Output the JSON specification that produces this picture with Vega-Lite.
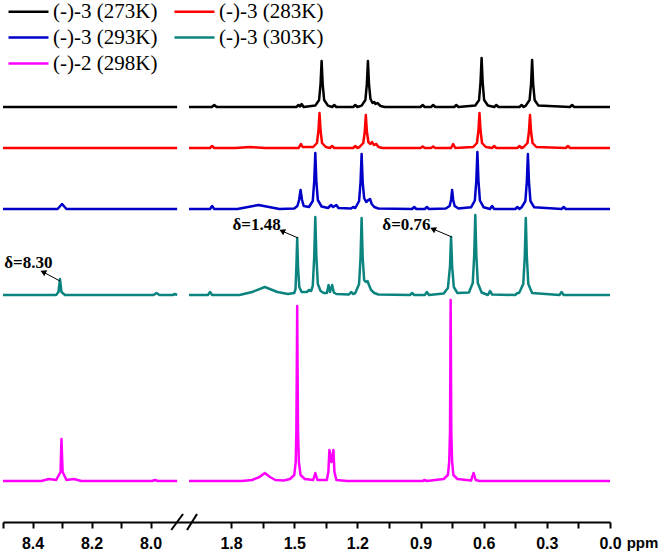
{
  "$schema": "https://vega.github.io/schema/vega-lite/v6.json",
  "width": 666,
  "height": 522,
  "autosize": {"type": "none"},
  "padding": {"left": 0, "top": 0, "right": 0, "bottom": 29},
  "background": "white",
  "config": {"view": {"stroke": null}},
  "datasets": {
    "spectra": [
      {"s":"(-)-3 (273K)","g":"L","ppm":8.5,"v":415},{"s":"(-)-3 (273K)","g":"L","ppm":7.91,"v":415},
      {"s":"(-)-3 (273K)","g":"R","ppm":2.0,"v":415},{"s":"(-)-3 (273K)","g":"R","ppm":1.892,"v":415},{"s":"(-)-3 (273K)","g":"R","ppm":1.88,"v":417},{"s":"(-)-3 (273K)","g":"R","ppm":1.868,"v":415},{"s":"(-)-3 (273K)","g":"R","ppm":1.49,"v":415},{"s":"(-)-3 (273K)","g":"R","ppm":1.48,"v":417},{"s":"(-)-3 (273K)","g":"R","ppm":1.472,"v":415.5},{"s":"(-)-3 (273K)","g":"R","ppm":1.465,"v":418},{"s":"(-)-3 (273K)","g":"R","ppm":1.455,"v":415},{"s":"(-)-3 (273K)","g":"R","ppm":1.40,"v":416.4},{"s":"(-)-3 (273K)","g":"R","ppm":1.382,"v":422},{"s":"(-)-3 (273K)","g":"R","ppm":1.375,"v":438},{"s":"(-)-3 (273K)","g":"R","ppm":1.37,"v":461},{"s":"(-)-3 (273K)","g":"R","ppm":1.365,"v":438},{"s":"(-)-3 (273K)","g":"R","ppm":1.358,"v":422},{"s":"(-)-3 (273K)","g":"R","ppm":1.34,"v":416.4},{"s":"(-)-3 (273K)","g":"R","ppm":1.32,"v":415},{"s":"(-)-3 (273K)","g":"R","ppm":1.31,"v":417},{"s":"(-)-3 (273K)","g":"R","ppm":1.30,"v":415},{"s":"(-)-3 (273K)","g":"R","ppm":1.22,"v":415},{"s":"(-)-3 (273K)","g":"R","ppm":1.21,"v":417},{"s":"(-)-3 (273K)","g":"R","ppm":1.20,"v":415},{"s":"(-)-3 (273K)","g":"R","ppm":1.18,"v":416.4},{"s":"(-)-3 (273K)","g":"R","ppm":1.162,"v":422},{"s":"(-)-3 (273K)","g":"R","ppm":1.155,"v":438},{"s":"(-)-3 (273K)","g":"R","ppm":1.15,"v":461},{"s":"(-)-3 (273K)","g":"R","ppm":1.145,"v":438},{"s":"(-)-3 (273K)","g":"R","ppm":1.138,"v":423},{"s":"(-)-3 (273K)","g":"R","ppm":1.128,"v":419},{"s":"(-)-3 (273K)","g":"R","ppm":1.12,"v":420},{"s":"(-)-3 (273K)","g":"R","ppm":1.114,"v":418},{"s":"(-)-3 (273K)","g":"R","ppm":1.105,"v":419},{"s":"(-)-3 (273K)","g":"R","ppm":1.09,"v":416},{"s":"(-)-3 (273K)","g":"R","ppm":1.07,"v":415},{"s":"(-)-3 (273K)","g":"R","ppm":0.90,"v":415},{"s":"(-)-3 (273K)","g":"R","ppm":0.89,"v":417},{"s":"(-)-3 (273K)","g":"R","ppm":0.88,"v":415},{"s":"(-)-3 (273K)","g":"R","ppm":0.85,"v":415},{"s":"(-)-3 (273K)","g":"R","ppm":0.84,"v":417},{"s":"(-)-3 (273K)","g":"R","ppm":0.83,"v":415},{"s":"(-)-3 (273K)","g":"R","ppm":0.74,"v":415},{"s":"(-)-3 (273K)","g":"R","ppm":0.73,"v":417},{"s":"(-)-3 (273K)","g":"R","ppm":0.72,"v":415},{"s":"(-)-3 (273K)","g":"R","ppm":0.64,"v":416.5},{"s":"(-)-3 (273K)","g":"R","ppm":0.622,"v":422},{"s":"(-)-3 (273K)","g":"R","ppm":0.615,"v":440},{"s":"(-)-3 (273K)","g":"R","ppm":0.61,"v":464},{"s":"(-)-3 (273K)","g":"R","ppm":0.605,"v":440},{"s":"(-)-3 (273K)","g":"R","ppm":0.598,"v":422},{"s":"(-)-3 (273K)","g":"R","ppm":0.58,"v":416.5},{"s":"(-)-3 (273K)","g":"R","ppm":0.55,"v":415},{"s":"(-)-3 (273K)","g":"R","ppm":0.54,"v":417},{"s":"(-)-3 (273K)","g":"R","ppm":0.53,"v":415},{"s":"(-)-3 (273K)","g":"R","ppm":0.43,"v":415},{"s":"(-)-3 (273K)","g":"R","ppm":0.42,"v":417},{"s":"(-)-3 (273K)","g":"R","ppm":0.41,"v":415},{"s":"(-)-3 (273K)","g":"R","ppm":0.40,"v":416.4},{"s":"(-)-3 (273K)","g":"R","ppm":0.382,"v":422},{"s":"(-)-3 (273K)","g":"R","ppm":0.375,"v":438},{"s":"(-)-3 (273K)","g":"R","ppm":0.37,"v":462},{"s":"(-)-3 (273K)","g":"R","ppm":0.365,"v":438},{"s":"(-)-3 (273K)","g":"R","ppm":0.358,"v":422},{"s":"(-)-3 (273K)","g":"R","ppm":0.34,"v":416.4},{"s":"(-)-3 (273K)","g":"R","ppm":0.19,"v":415},{"s":"(-)-3 (273K)","g":"R","ppm":0.18,"v":417},{"s":"(-)-3 (273K)","g":"R","ppm":0.17,"v":415},{"s":"(-)-3 (273K)","g":"R","ppm":0.0,"v":415},

      {"s":"(-)-3 (283K)","g":"L","ppm":8.5,"v":374},{"s":"(-)-3 (283K)","g":"L","ppm":7.91,"v":374},
      {"s":"(-)-3 (283K)","g":"R","ppm":2.0,"v":374},{"s":"(-)-3 (283K)","g":"R","ppm":1.90,"v":374},{"s":"(-)-3 (283K)","g":"R","ppm":1.89,"v":376},{"s":"(-)-3 (283K)","g":"R","ppm":1.88,"v":374},{"s":"(-)-3 (283K)","g":"R","ppm":1.78,"v":374},{"s":"(-)-3 (283K)","g":"R","ppm":1.71,"v":375},{"s":"(-)-3 (283K)","g":"R","ppm":1.64,"v":374},{"s":"(-)-3 (283K)","g":"R","ppm":1.48,"v":374},{"s":"(-)-3 (283K)","g":"R","ppm":1.475,"v":375.5},{"s":"(-)-3 (283K)","g":"R","ppm":1.468,"v":378},{"s":"(-)-3 (283K)","g":"R","ppm":1.46,"v":375},{"s":"(-)-3 (283K)","g":"R","ppm":1.41,"v":375},{"s":"(-)-3 (283K)","g":"R","ppm":1.392,"v":379},{"s":"(-)-3 (283K)","g":"R","ppm":1.385,"v":391.5},{"s":"(-)-3 (283K)","g":"R","ppm":1.38,"v":409},{"s":"(-)-3 (283K)","g":"R","ppm":1.375,"v":391.5},{"s":"(-)-3 (283K)","g":"R","ppm":1.368,"v":379},{"s":"(-)-3 (283K)","g":"R","ppm":1.35,"v":375},{"s":"(-)-3 (283K)","g":"R","ppm":1.33,"v":374},{"s":"(-)-3 (283K)","g":"R","ppm":1.32,"v":376},{"s":"(-)-3 (283K)","g":"R","ppm":1.31,"v":374},{"s":"(-)-3 (283K)","g":"R","ppm":1.22,"v":374},{"s":"(-)-3 (283K)","g":"R","ppm":1.21,"v":376},{"s":"(-)-3 (283K)","g":"R","ppm":1.20,"v":374},{"s":"(-)-3 (283K)","g":"R","ppm":1.19,"v":375},{"s":"(-)-3 (283K)","g":"R","ppm":1.172,"v":379},{"s":"(-)-3 (283K)","g":"R","ppm":1.165,"v":390.5},{"s":"(-)-3 (283K)","g":"R","ppm":1.16,"v":407},{"s":"(-)-3 (283K)","g":"R","ppm":1.155,"v":390.5},{"s":"(-)-3 (283K)","g":"R","ppm":1.148,"v":380},{"s":"(-)-3 (283K)","g":"R","ppm":1.138,"v":378},{"s":"(-)-3 (283K)","g":"R","ppm":1.13,"v":380},{"s":"(-)-3 (283K)","g":"R","ppm":1.122,"v":377},{"s":"(-)-3 (283K)","g":"R","ppm":1.11,"v":378},{"s":"(-)-3 (283K)","g":"R","ppm":1.10,"v":375},{"s":"(-)-3 (283K)","g":"R","ppm":1.08,"v":374},{"s":"(-)-3 (283K)","g":"R","ppm":0.90,"v":374},{"s":"(-)-3 (283K)","g":"R","ppm":0.89,"v":375.5},{"s":"(-)-3 (283K)","g":"R","ppm":0.88,"v":374},{"s":"(-)-3 (283K)","g":"R","ppm":0.85,"v":374},{"s":"(-)-3 (283K)","g":"R","ppm":0.84,"v":375.5},{"s":"(-)-3 (283K)","g":"R","ppm":0.83,"v":374},{"s":"(-)-3 (283K)","g":"R","ppm":0.755,"v":374},{"s":"(-)-3 (283K)","g":"R","ppm":0.745,"v":378},{"s":"(-)-3 (283K)","g":"R","ppm":0.735,"v":374},{"s":"(-)-3 (283K)","g":"R","ppm":0.65,"v":375},{"s":"(-)-3 (283K)","g":"R","ppm":0.632,"v":379},{"s":"(-)-3 (283K)","g":"R","ppm":0.625,"v":391.5},{"s":"(-)-3 (283K)","g":"R","ppm":0.62,"v":409},{"s":"(-)-3 (283K)","g":"R","ppm":0.615,"v":391.5},{"s":"(-)-3 (283K)","g":"R","ppm":0.608,"v":379},{"s":"(-)-3 (283K)","g":"R","ppm":0.59,"v":375},{"s":"(-)-3 (283K)","g":"R","ppm":0.56,"v":374},{"s":"(-)-3 (283K)","g":"R","ppm":0.55,"v":376},{"s":"(-)-3 (283K)","g":"R","ppm":0.54,"v":374},{"s":"(-)-3 (283K)","g":"R","ppm":0.44,"v":374},{"s":"(-)-3 (283K)","g":"R","ppm":0.43,"v":376},{"s":"(-)-3 (283K)","g":"R","ppm":0.42,"v":374},{"s":"(-)-3 (283K)","g":"R","ppm":0.41,"v":375},{"s":"(-)-3 (283K)","g":"R","ppm":0.392,"v":379},{"s":"(-)-3 (283K)","g":"R","ppm":0.385,"v":390.5},{"s":"(-)-3 (283K)","g":"R","ppm":0.38,"v":407},{"s":"(-)-3 (283K)","g":"R","ppm":0.375,"v":390.5},{"s":"(-)-3 (283K)","g":"R","ppm":0.368,"v":379},{"s":"(-)-3 (283K)","g":"R","ppm":0.35,"v":375},{"s":"(-)-3 (283K)","g":"R","ppm":0.21,"v":374},{"s":"(-)-3 (283K)","g":"R","ppm":0.20,"v":376},{"s":"(-)-3 (283K)","g":"R","ppm":0.19,"v":374},{"s":"(-)-3 (283K)","g":"R","ppm":0.0,"v":374},

      {"s":"(-)-3 (293K)","g":"L","ppm":8.5,"v":313},{"s":"(-)-3 (293K)","g":"L","ppm":8.315,"v":313},{"s":"(-)-3 (293K)","g":"L","ppm":8.30,"v":318},{"s":"(-)-3 (293K)","g":"L","ppm":8.285,"v":313},{"s":"(-)-3 (293K)","g":"L","ppm":7.91,"v":313},
      {"s":"(-)-3 (293K)","g":"R","ppm":2.0,"v":313},{"s":"(-)-3 (293K)","g":"R","ppm":1.90,"v":313},{"s":"(-)-3 (293K)","g":"R","ppm":1.89,"v":316},{"s":"(-)-3 (293K)","g":"R","ppm":1.88,"v":313},{"s":"(-)-3 (293K)","g":"R","ppm":1.77,"v":313},{"s":"(-)-3 (293K)","g":"R","ppm":1.72,"v":315},{"s":"(-)-3 (293K)","g":"R","ppm":1.67,"v":317},{"s":"(-)-3 (293K)","g":"R","ppm":1.62,"v":315},{"s":"(-)-3 (293K)","g":"R","ppm":1.57,"v":313},{"s":"(-)-3 (293K)","g":"R","ppm":1.50,"v":313.5},{"s":"(-)-3 (293K)","g":"R","ppm":1.485,"v":316},{"s":"(-)-3 (293K)","g":"R","ppm":1.477,"v":322},{"s":"(-)-3 (293K)","g":"R","ppm":1.47,"v":332},{"s":"(-)-3 (293K)","g":"R","ppm":1.463,"v":322},{"s":"(-)-3 (293K)","g":"R","ppm":1.455,"v":316},{"s":"(-)-3 (293K)","g":"R","ppm":1.43,"v":315},{"s":"(-)-3 (293K)","g":"R","ppm":1.412,"v":321},{"s":"(-)-3 (293K)","g":"R","ppm":1.405,"v":341},{"s":"(-)-3 (293K)","g":"R","ppm":1.40,"v":369},{"s":"(-)-3 (293K)","g":"R","ppm":1.395,"v":341},{"s":"(-)-3 (293K)","g":"R","ppm":1.388,"v":322},{"s":"(-)-3 (293K)","g":"R","ppm":1.37,"v":315.5},{"s":"(-)-3 (293K)","g":"R","ppm":1.34,"v":314},{"s":"(-)-3 (293K)","g":"R","ppm":1.325,"v":317},{"s":"(-)-3 (293K)","g":"R","ppm":1.315,"v":315},{"s":"(-)-3 (293K)","g":"R","ppm":1.30,"v":317},{"s":"(-)-3 (293K)","g":"R","ppm":1.29,"v":314},{"s":"(-)-3 (293K)","g":"R","ppm":1.23,"v":313.5},{"s":"(-)-3 (293K)","g":"R","ppm":1.22,"v":315},{"s":"(-)-3 (293K)","g":"R","ppm":1.21,"v":314},{"s":"(-)-3 (293K)","g":"R","ppm":1.192,"v":321},{"s":"(-)-3 (293K)","g":"R","ppm":1.185,"v":340},{"s":"(-)-3 (293K)","g":"R","ppm":1.18,"v":368},{"s":"(-)-3 (293K)","g":"R","ppm":1.175,"v":340},{"s":"(-)-3 (293K)","g":"R","ppm":1.168,"v":324},{"s":"(-)-3 (293K)","g":"R","ppm":1.158,"v":320},{"s":"(-)-3 (293K)","g":"R","ppm":1.148,"v":322},{"s":"(-)-3 (293K)","g":"R","ppm":1.14,"v":323},{"s":"(-)-3 (293K)","g":"R","ppm":1.132,"v":318},{"s":"(-)-3 (293K)","g":"R","ppm":1.12,"v":315},{"s":"(-)-3 (293K)","g":"R","ppm":1.10,"v":313.5},{"s":"(-)-3 (293K)","g":"R","ppm":0.94,"v":313},{"s":"(-)-3 (293K)","g":"R","ppm":0.93,"v":315},{"s":"(-)-3 (293K)","g":"R","ppm":0.92,"v":313},{"s":"(-)-3 (293K)","g":"R","ppm":0.88,"v":313},{"s":"(-)-3 (293K)","g":"R","ppm":0.87,"v":315},{"s":"(-)-3 (293K)","g":"R","ppm":0.86,"v":313},{"s":"(-)-3 (293K)","g":"R","ppm":0.78,"v":313.5},{"s":"(-)-3 (293K)","g":"R","ppm":0.762,"v":316},{"s":"(-)-3 (293K)","g":"R","ppm":0.755,"v":322},{"s":"(-)-3 (293K)","g":"R","ppm":0.75,"v":332},{"s":"(-)-3 (293K)","g":"R","ppm":0.745,"v":322},{"s":"(-)-3 (293K)","g":"R","ppm":0.738,"v":316},{"s":"(-)-3 (293K)","g":"R","ppm":0.72,"v":313.5},{"s":"(-)-3 (293K)","g":"R","ppm":0.66,"v":314.7},{"s":"(-)-3 (293K)","g":"R","ppm":0.642,"v":321.5},{"s":"(-)-3 (293K)","g":"R","ppm":0.635,"v":341.5},{"s":"(-)-3 (293K)","g":"R","ppm":0.63,"v":370},{"s":"(-)-3 (293K)","g":"R","ppm":0.625,"v":341.5},{"s":"(-)-3 (293K)","g":"R","ppm":0.618,"v":321.5},{"s":"(-)-3 (293K)","g":"R","ppm":0.60,"v":314.7},{"s":"(-)-3 (293K)","g":"R","ppm":0.57,"v":313},{"s":"(-)-3 (293K)","g":"R","ppm":0.56,"v":316},{"s":"(-)-3 (293K)","g":"R","ppm":0.55,"v":313},{"s":"(-)-3 (293K)","g":"R","ppm":0.45,"v":313},{"s":"(-)-3 (293K)","g":"R","ppm":0.44,"v":315},{"s":"(-)-3 (293K)","g":"R","ppm":0.43,"v":313},{"s":"(-)-3 (293K)","g":"R","ppm":0.42,"v":314.7},{"s":"(-)-3 (293K)","g":"R","ppm":0.402,"v":321},{"s":"(-)-3 (293K)","g":"R","ppm":0.395,"v":340.5},{"s":"(-)-3 (293K)","g":"R","ppm":0.39,"v":368},{"s":"(-)-3 (293K)","g":"R","ppm":0.385,"v":340.5},{"s":"(-)-3 (293K)","g":"R","ppm":0.378,"v":321},{"s":"(-)-3 (293K)","g":"R","ppm":0.36,"v":314.7},{"s":"(-)-3 (293K)","g":"R","ppm":0.23,"v":313},{"s":"(-)-3 (293K)","g":"R","ppm":0.22,"v":315},{"s":"(-)-3 (293K)","g":"R","ppm":0.21,"v":313},{"s":"(-)-3 (293K)","g":"R","ppm":0.0,"v":313},

      {"s":"(-)-3 (303K)","g":"L","ppm":8.5,"v":227},{"s":"(-)-3 (303K)","g":"L","ppm":8.32,"v":227},{"s":"(-)-3 (303K)","g":"L","ppm":8.312,"v":230},{"s":"(-)-3 (303K)","g":"L","ppm":8.307,"v":243},{"s":"(-)-3 (303K)","g":"L","ppm":8.302,"v":230},{"s":"(-)-3 (303K)","g":"L","ppm":8.29,"v":227},{"s":"(-)-3 (303K)","g":"L","ppm":7.99,"v":227},{"s":"(-)-3 (303K)","g":"L","ppm":7.98,"v":229},{"s":"(-)-3 (303K)","g":"L","ppm":7.97,"v":227},{"s":"(-)-3 (303K)","g":"L","ppm":7.925,"v":227},{"s":"(-)-3 (303K)","g":"L","ppm":7.918,"v":228},{"s":"(-)-3 (303K)","g":"L","ppm":7.91,"v":227},
      {"s":"(-)-3 (303K)","g":"R","ppm":2.0,"v":227},{"s":"(-)-3 (303K)","g":"R","ppm":1.91,"v":227},{"s":"(-)-3 (303K)","g":"R","ppm":1.90,"v":230},{"s":"(-)-3 (303K)","g":"R","ppm":1.89,"v":227},{"s":"(-)-3 (303K)","g":"R","ppm":1.76,"v":227},{"s":"(-)-3 (303K)","g":"R","ppm":1.70,"v":230},{"s":"(-)-3 (303K)","g":"R","ppm":1.64,"v":235},{"s":"(-)-3 (303K)","g":"R","ppm":1.58,"v":230},{"s":"(-)-3 (303K)","g":"R","ppm":1.53,"v":228},{"s":"(-)-3 (303K)","g":"R","ppm":1.50,"v":229},{"s":"(-)-3 (303K)","g":"R","ppm":1.494,"v":233},{"s":"(-)-3 (303K)","g":"R","ppm":1.49,"v":255},{"s":"(-)-3 (303K)","g":"R","ppm":1.486,"v":284},{"s":"(-)-3 (303K)","g":"R","ppm":1.482,"v":255},{"s":"(-)-3 (303K)","g":"R","ppm":1.476,"v":235},{"s":"(-)-3 (303K)","g":"R","ppm":1.465,"v":230},{"s":"(-)-3 (303K)","g":"R","ppm":1.44,"v":230},{"s":"(-)-3 (303K)","g":"R","ppm":1.43,"v":232},{"s":"(-)-3 (303K)","g":"R","ppm":1.42,"v":231},{"s":"(-)-3 (303K)","g":"R","ppm":1.412,"v":236},{"s":"(-)-3 (303K)","g":"R","ppm":1.405,"v":266},{"s":"(-)-3 (303K)","g":"R","ppm":1.40,"v":305},{"s":"(-)-3 (303K)","g":"R","ppm":1.395,"v":266},{"s":"(-)-3 (303K)","g":"R","ppm":1.388,"v":238},{"s":"(-)-3 (303K)","g":"R","ppm":1.375,"v":231},{"s":"(-)-3 (303K)","g":"R","ppm":1.36,"v":229},{"s":"(-)-3 (303K)","g":"R","ppm":1.345,"v":229},{"s":"(-)-3 (303K)","g":"R","ppm":1.337,"v":237},{"s":"(-)-3 (303K)","g":"R","ppm":1.33,"v":230},{"s":"(-)-3 (303K)","g":"R","ppm":1.32,"v":237},{"s":"(-)-3 (303K)","g":"R","ppm":1.312,"v":229.5},{"s":"(-)-3 (303K)","g":"R","ppm":1.30,"v":228},{"s":"(-)-3 (303K)","g":"R","ppm":1.24,"v":227.5},{"s":"(-)-3 (303K)","g":"R","ppm":1.23,"v":230},{"s":"(-)-3 (303K)","g":"R","ppm":1.22,"v":228},{"s":"(-)-3 (303K)","g":"R","ppm":1.21,"v":229},{"s":"(-)-3 (303K)","g":"R","ppm":1.192,"v":238},{"s":"(-)-3 (303K)","g":"R","ppm":1.185,"v":265},{"s":"(-)-3 (303K)","g":"R","ppm":1.18,"v":304},{"s":"(-)-3 (303K)","g":"R","ppm":1.175,"v":265},{"s":"(-)-3 (303K)","g":"R","ppm":1.168,"v":242},{"s":"(-)-3 (303K)","g":"R","ppm":1.16,"v":240},{"s":"(-)-3 (303K)","g":"R","ppm":1.152,"v":241},{"s":"(-)-3 (303K)","g":"R","ppm":1.145,"v":237},{"s":"(-)-3 (303K)","g":"R","ppm":1.135,"v":232},{"s":"(-)-3 (303K)","g":"R","ppm":1.12,"v":229},{"s":"(-)-3 (303K)","g":"R","ppm":1.10,"v":227.5},{"s":"(-)-3 (303K)","g":"R","ppm":0.95,"v":227},{"s":"(-)-3 (303K)","g":"R","ppm":0.94,"v":229},{"s":"(-)-3 (303K)","g":"R","ppm":0.93,"v":227},{"s":"(-)-3 (303K)","g":"R","ppm":0.88,"v":227},{"s":"(-)-3 (303K)","g":"R","ppm":0.87,"v":230},{"s":"(-)-3 (303K)","g":"R","ppm":0.86,"v":227},{"s":"(-)-3 (303K)","g":"R","ppm":0.79,"v":228.5},{"s":"(-)-3 (303K)","g":"R","ppm":0.77,"v":234},{"s":"(-)-3 (303K)","g":"R","ppm":0.76,"v":256},{"s":"(-)-3 (303K)","g":"R","ppm":0.755,"v":285},{"s":"(-)-3 (303K)","g":"R","ppm":0.75,"v":256},{"s":"(-)-3 (303K)","g":"R","ppm":0.742,"v":235},{"s":"(-)-3 (303K)","g":"R","ppm":0.725,"v":229},{"s":"(-)-3 (303K)","g":"R","ppm":0.67,"v":229.5},{"s":"(-)-3 (303K)","g":"R","ppm":0.652,"v":239},{"s":"(-)-3 (303K)","g":"R","ppm":0.645,"v":267},{"s":"(-)-3 (303K)","g":"R","ppm":0.64,"v":307},{"s":"(-)-3 (303K)","g":"R","ppm":0.635,"v":267},{"s":"(-)-3 (303K)","g":"R","ppm":0.628,"v":239},{"s":"(-)-3 (303K)","g":"R","ppm":0.61,"v":229.5},{"s":"(-)-3 (303K)","g":"R","ppm":0.58,"v":227},{"s":"(-)-3 (303K)","g":"R","ppm":0.57,"v":231},{"s":"(-)-3 (303K)","g":"R","ppm":0.56,"v":227.5},{"s":"(-)-3 (303K)","g":"R","ppm":0.45,"v":227},{"s":"(-)-3 (303K)","g":"R","ppm":0.44,"v":229},{"s":"(-)-3 (303K)","g":"R","ppm":0.432,"v":229},{"s":"(-)-3 (303K)","g":"R","ppm":0.412,"v":238},{"s":"(-)-3 (303K)","g":"R","ppm":0.405,"v":265},{"s":"(-)-3 (303K)","g":"R","ppm":0.40,"v":304},{"s":"(-)-3 (303K)","g":"R","ppm":0.395,"v":265},{"s":"(-)-3 (303K)","g":"R","ppm":0.388,"v":238},{"s":"(-)-3 (303K)","g":"R","ppm":0.37,"v":229},{"s":"(-)-3 (303K)","g":"R","ppm":0.24,"v":227},{"s":"(-)-3 (303K)","g":"R","ppm":0.23,"v":230},{"s":"(-)-3 (303K)","g":"R","ppm":0.22,"v":227},{"s":"(-)-3 (303K)","g":"R","ppm":0.0,"v":227},

      {"s":"(-)-2 (298K)","g":"L","ppm":8.5,"v":41},{"s":"(-)-2 (298K)","g":"L","ppm":8.37,"v":41},{"s":"(-)-2 (298K)","g":"L","ppm":8.345,"v":43},{"s":"(-)-2 (298K)","g":"L","ppm":8.32,"v":42},{"s":"(-)-2 (298K)","g":"L","ppm":8.305,"v":50},{"s":"(-)-2 (298K)","g":"L","ppm":8.302,"v":83},{"s":"(-)-2 (298K)","g":"L","ppm":8.298,"v":50},{"s":"(-)-2 (298K)","g":"L","ppm":8.285,"v":42},{"s":"(-)-2 (298K)","g":"L","ppm":8.26,"v":43},{"s":"(-)-2 (298K)","g":"L","ppm":8.235,"v":41},{"s":"(-)-2 (298K)","g":"L","ppm":7.995,"v":41},{"s":"(-)-2 (298K)","g":"L","ppm":7.985,"v":42},{"s":"(-)-2 (298K)","g":"L","ppm":7.975,"v":41},{"s":"(-)-2 (298K)","g":"L","ppm":7.91,"v":41},
      {"s":"(-)-2 (298K)","g":"R","ppm":2.0,"v":41},{"s":"(-)-2 (298K)","g":"R","ppm":1.75,"v":41},{"s":"(-)-2 (298K)","g":"R","ppm":1.70,"v":42},{"s":"(-)-2 (298K)","g":"R","ppm":1.665,"v":45},{"s":"(-)-2 (298K)","g":"R","ppm":1.64,"v":49},{"s":"(-)-2 (298K)","g":"R","ppm":1.615,"v":45},{"s":"(-)-2 (298K)","g":"R","ppm":1.59,"v":42},{"s":"(-)-2 (298K)","g":"R","ppm":1.55,"v":41.5},{"s":"(-)-2 (298K)","g":"R","ppm":1.52,"v":43},{"s":"(-)-2 (298K)","g":"R","ppm":1.50,"v":47},{"s":"(-)-2 (298K)","g":"R","ppm":1.493,"v":60},{"s":"(-)-2 (298K)","g":"R","ppm":1.49,"v":90},{"s":"(-)-2 (298K)","g":"R","ppm":1.487,"v":180},{"s":"(-)-2 (298K)","g":"R","ppm":1.486,"v":216},{"s":"(-)-2 (298K)","g":"R","ppm":1.485,"v":180},{"s":"(-)-2 (298K)","g":"R","ppm":1.482,"v":90},{"s":"(-)-2 (298K)","g":"R","ppm":1.478,"v":60},{"s":"(-)-2 (298K)","g":"R","ppm":1.47,"v":47},{"s":"(-)-2 (298K)","g":"R","ppm":1.45,"v":43},{"s":"(-)-2 (298K)","g":"R","ppm":1.41,"v":42},{"s":"(-)-2 (298K)","g":"R","ppm":1.40,"v":49},{"s":"(-)-2 (298K)","g":"R","ppm":1.39,"v":42},{"s":"(-)-2 (298K)","g":"R","ppm":1.345,"v":42},{"s":"(-)-2 (298K)","g":"R","ppm":1.338,"v":50},{"s":"(-)-2 (298K)","g":"R","ppm":1.333,"v":72},{"s":"(-)-2 (298K)","g":"R","ppm":1.3235,"v":60},{"s":"(-)-2 (298K)","g":"R","ppm":1.314,"v":72},{"s":"(-)-2 (298K)","g":"R","ppm":1.309,"v":50},{"s":"(-)-2 (298K)","g":"R","ppm":1.30,"v":42},{"s":"(-)-2 (298K)","g":"R","ppm":1.25,"v":41},{"s":"(-)-2 (298K)","g":"R","ppm":0.89,"v":41},{"s":"(-)-2 (298K)","g":"R","ppm":0.88,"v":42},{"s":"(-)-2 (298K)","g":"R","ppm":0.87,"v":41},{"s":"(-)-2 (298K)","g":"R","ppm":0.79,"v":43},{"s":"(-)-2 (298K)","g":"R","ppm":0.77,"v":47},{"s":"(-)-2 (298K)","g":"R","ppm":0.764,"v":60},{"s":"(-)-2 (298K)","g":"R","ppm":0.76,"v":90},{"s":"(-)-2 (298K)","g":"R","ppm":0.758,"v":180},{"s":"(-)-2 (298K)","g":"R","ppm":0.757,"v":222},{"s":"(-)-2 (298K)","g":"R","ppm":0.756,"v":180},{"s":"(-)-2 (298K)","g":"R","ppm":0.754,"v":90},{"s":"(-)-2 (298K)","g":"R","ppm":0.75,"v":60},{"s":"(-)-2 (298K)","g":"R","ppm":0.744,"v":47},{"s":"(-)-2 (298K)","g":"R","ppm":0.725,"v":43},{"s":"(-)-2 (298K)","g":"R","ppm":0.66,"v":41.5},{"s":"(-)-2 (298K)","g":"R","ppm":0.648,"v":49},{"s":"(-)-2 (298K)","g":"R","ppm":0.638,"v":42},{"s":"(-)-2 (298K)","g":"R","ppm":0.62,"v":41},{"s":"(-)-2 (298K)","g":"R","ppm":0.0,"v":41}
    ],
    "notes": [
      {"label":"δ=8.30","ppm":8.414,"v":259,"tipPpm":8.307,"tipV":241,"headPpm":8.364,"headV":250},
      {"label":"δ=1.48","ppm":1.679,"v":297,"tipPpm":1.482,"tipV":284,"headPpm":1.558,"headV":291},
      {"label":"δ=0.76","ppm":0.967,"v":297,"tipPpm":0.751,"tipV":285,"headPpm":0.841,"headV":293}
    ],
    "breaks": [
      {"ppm":7.93,"v":-8,"ppm2":7.89,"v2":8},
      {"ppm":5.92,"v":-8,"ppm2":1.962,"v2":8}
    ]
  },
  "encoding": {
    "x": {
      "field": "ppm", "type": "quantitative",
      "scale": {"domain": [8.5, 7.88, 2.0, 0.0], "range": [3, 186, 189, 610], "zero": false, "nice": false},
      "axis": {
        "title": "ppm",
        "values": [8.5, 8.4, 8.3, 8.2, 8.1, 8.0, 1.8, 1.65, 1.5, 1.35, 1.2, 1.05, 0.9, 0.75, 0.6, 0.45, 0.3, 0.15, 0.0],
        "labelExpr": "indexof([8.4, 8.2, 8.0, 1.8, 1.5, 1.2, 0.9, 0.6, 0.3, 0.0], datum.value) >= 0 ? format(datum.value, '.1f') : ''",
        "labelOverlap": false, "labelFlush": false, "grid": false,
        "domainColor": "black", "domainWidth": 2, "tickColor": "black", "tickWidth": 2, "tickSize": 6,
        "labelFont": "Liberation Sans", "labelFontWeight": "bold", "labelFontSize": 16, "labelColor": "black", "labelPadding": 7,
        "titleFont": "Liberation Sans", "titleFontWeight": "bold", "titleFontSize": 15, "titleColor": "black",
        "titleX": 642, "titleY": 13, "titleAlign": "center", "titleBaseline": "top", "titleAngle": 0
      }
    },
    "y": {"field": "v", "type": "quantitative", "scale": {"domain": [0, 522], "zero": false, "nice": false}, "axis": null}
  },
  "layer": [
    {
      "data": {"name": "spectra"},
      "mark": {"type": "line", "strokeWidth": 2.5, "interpolate": "linear", "strokeJoin": "round"},
      "encoding": {
        "detail": {"field": "g", "type": "nominal"},
        "color": {
          "field": "s", "type": "nominal",
          "scale": {
            "domain": ["(-)-3 (273K)", "(-)-3 (283K)", "(-)-3 (293K)", "(-)-3 (303K)", "(-)-2 (298K)"],
            "range": ["#000000", "#ff0000", "#0000c8", "#0b8480", "#ff00ff"]
          },
          "legend": {
            "orient": "none", "legendX": 18, "legendY": 1, "direction": "horizontal", "columns": 2, "title": null,
            "symbolType": "M-4,0H4", "symbolSize": 100, "symbolStrokeWidth": 2.5,
            "labelFont": "Liberation Serif", "labelFontSize": 21, "labelColor": "black",
            "labelOffset": 14, "columnPadding": 11, "rowPadding": 4
          }
        }
      }
    },
    {
      "data": {"name": "notes"},
      "mark": {"type": "rule", "color": "black", "strokeWidth": 1},
      "encoding": {
        "x": {"field": "tipPpm", "type": "quantitative"},
        "y": {"field": "tipV", "type": "quantitative"},
        "x2": {"field": "headPpm"},
        "y2": {"field": "headV"}
      }
    },
    {
      "data": {"name": "notes"},
      "mark": {"type": "point", "shape": "triangle-left", "angle": 26, "filled": true, "color": "black", "size": 45, "opacity": 1},
      "encoding": {
        "x": {"field": "headPpm", "type": "quantitative"},
        "y": {"field": "headV", "type": "quantitative"}
      }
    },
    {
      "data": {"name": "notes"},
      "mark": {"type": "text", "font": "Liberation Serif", "fontWeight": "bold", "fontSize": 17, "color": "black", "align": "center", "baseline": "middle"},
      "encoding": {"text": {"field": "label"}}
    },
    {
      "data": {"name": "breaks"},
      "mark": {"type": "rule", "color": "black", "strokeWidth": 2},
      "encoding": {"x2": {"field": "ppm2"}, "y2": {"field": "v2"}}
    }
  ]
}
